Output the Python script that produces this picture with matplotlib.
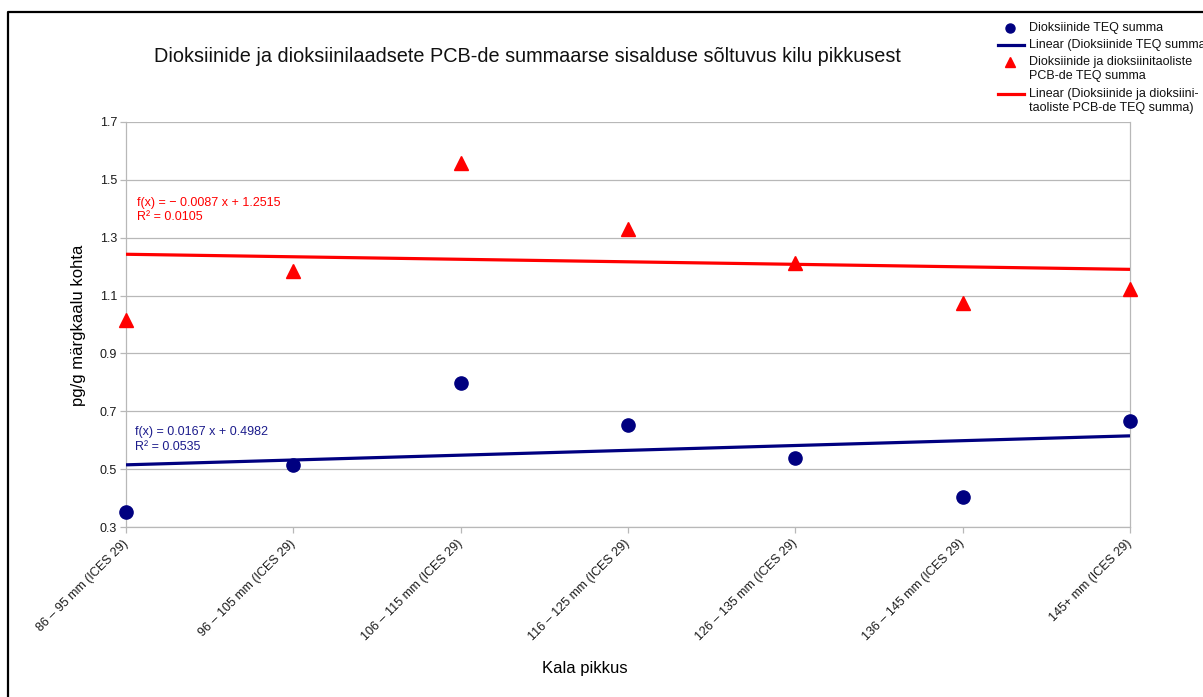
import matplotlib
matplotlib.use("Agg")
import matplotlib.pyplot as plt
from matplotlib.lines import Line2D
import numpy as np

plt.rcParams['font.family'] = ['Liberation Sans', 'DejaVu Sans']

# --- data -------------------------------------------------------------
categories = [
    "86 – 95 mm (ICES 29)",
    "96 – 105 mm (ICES 29)",
    "106 – 115 mm (ICES 29)",
    "116 – 125 mm (ICES 29)",
    "126 – 135 mm (ICES 29)",
    "136 – 145 mm (ICES 29)",
    "145+ mm (ICES 29)",
]
dioxins_teq = [0.352, 0.514, 0.798, 0.653, 0.539, 0.404, 0.666]
dioxins_pcb_teq = [1.016, 1.185, 1.558, 1.330, 1.213, 1.074, 1.123]

# linear trend coefficients (slope, intercept, R²)
trend_dioxins = (0.0167, 0.4982, 0.0535)
trend_dioxins_pcb = (-0.0087, 1.2515, 0.0105)

y_ticks = [0.3, 0.5, 0.7, 0.9, 1.1, 1.3, 1.5, 1.7]

series_labels = [
    "Dioksiinide TEQ summa",
    "Linear (Dioksiinide TEQ summa)",
    "Dioksiinide ja dioksiinitaoliste\nPCB-de TEQ summa",
    "Linear (Dioksiinide ja dioksiini-\ntaoliste PCB-de TEQ summa)",
]

NAVY = "#000080"
RED = "#ff0000"
GRID = "#b8b8b8"

W, H = 1203, 697
fig = plt.figure(figsize=(W / 100, H / 100), dpi=100)

# plot area in pixels (left, top, right, bottom)
pl, pt, pr, pb = 126, 122, 1130, 527
ax = fig.add_axes([pl / W, 1 - pb / H, (pr - pl) / W, (pb - pt) / H])

x = np.arange(1, len(categories) + 1)

ax.plot(x, dioxins_teq, linestyle="none", marker="o", markersize=9.5,
        color=NAVY, zorder=4, clip_on=False)
ax.plot(x, dioxins_pcb_teq, linestyle="none", marker="^", markersize=10,
        color=RED, zorder=4, clip_on=False)

xl = np.array([x[0], x[-1]])
ax.plot(xl, trend_dioxins[0] * xl + trend_dioxins[1], color=NAVY, lw=2.3,
        zorder=3, solid_capstyle="butt")
ax.plot(xl, trend_dioxins_pcb[0] * xl + trend_dioxins_pcb[1], color=RED,
        lw=2.3, zorder=3, solid_capstyle="butt")

ax.set_xlim(x[0], x[-1])
ax.set_ylim(y_ticks[0], y_ticks[-1])
ax.set_yticks(y_ticks)
ax.set_yticklabels([f"{v:.1f}" for v in y_ticks])
ax.set_xticks(x)
ax.set_xticklabels(categories, rotation=45, ha="right", va="center",
                   rotation_mode="anchor")

ax.grid(axis="y", color=GRID, lw=0.9)
ax.set_axisbelow(True)
ax.spines["top"].set_visible(False)
for side in ("left", "right", "bottom"):
    ax.spines[side].set_color(GRID)
    ax.spines[side].set_linewidth(0.9)
ax.tick_params(axis="both", colors=GRID, labelcolor="#1a1a1a", labelsize=9,
               length=4.5, width=0.9)
ax.tick_params(axis="x", pad=6)
ax.tick_params(axis="y", pad=2)

ax.set_ylabel("pg/g märgkaalu kohta", fontsize=12)
ax.set_xlabel("Kala pikkus", fontsize=12)
ax.xaxis.set_label_coords((585 - pl) / (pr - pl), -(661 - pb) / (pb - pt))
ax.yaxis.set_label_coords(-(pl - 86) / (pr - pl), (pb - 325) / (pb - pt))

# overlay in pixel coordinates for title, equations, legend and frame
ov = fig.add_axes([0, 0, 1, 1], zorder=10)
ov.set_xlim(0, W)
ov.set_ylim(H, 0)
ov.axis("off")
ov.patch.set_alpha(0)

ov.text(527, 57, "Dioksiinide ja dioksiinilaadsete PCB-de summaarse sisalduse "
        "sõltuvus kilu pikkusest", fontsize=14.3, ha="center", va="center",
        color="#111111")

def fmt_eq(slope, intercept):
    sign = "− " if slope < 0 else ""
    return f"f(x) = {sign}{abs(slope):.4f} x + {intercept:.4f}"

s, b, r2 = trend_dioxins_pcb
ov.text(137, 203, fmt_eq(s, b), fontsize=9, color=RED, va="center")
ov.text(137, 217, f"R² = {r2:.4f}", fontsize=9, color=RED, va="center")
s, b, r2 = trend_dioxins
ov.text(135, 432, fmt_eq(s, b), fontsize=9, color="#1c1c8c", va="center")
ov.text(135, 447, f"R² = {r2:.4f}", fontsize=9, color="#1c1c8c", va="center")

# legend
lx_mark, lx0, lx1, tx = 1010, 998, 1024, 1029
ov.add_line(Line2D([lx_mark], [28], marker="o", markersize=6.5, color=NAVY,
                   linestyle="none"))
ov.text(tx, 28, series_labels[0], fontsize=9, va="center", color="#111111")
ov.add_line(Line2D([lx0, lx1], [45, 45], color=NAVY, lw=2.3))
ov.text(tx, 45, series_labels[1], fontsize=9, va="center", color="#111111")
ov.add_line(Line2D([lx_mark], [62], marker="^", markersize=6.5, color=RED,
                   linestyle="none"))
ov.text(tx, 56, series_labels[2], fontsize=9, va="top", color="#111111",
        linespacing=1.25)
ov.add_line(Line2D([lx0, lx1], [94, 94], color=RED, lw=2.3))
ov.text(tx, 88, series_labels[3], fontsize=9, va="top", color="#111111",
        linespacing=1.25)

# outer frame (left and top edges)
ov.add_line(Line2D([8, 8, W + 5], [H + 5, 12, 12], color="black", lw=1.6))

fig.savefig("out.png", dpi=100)
